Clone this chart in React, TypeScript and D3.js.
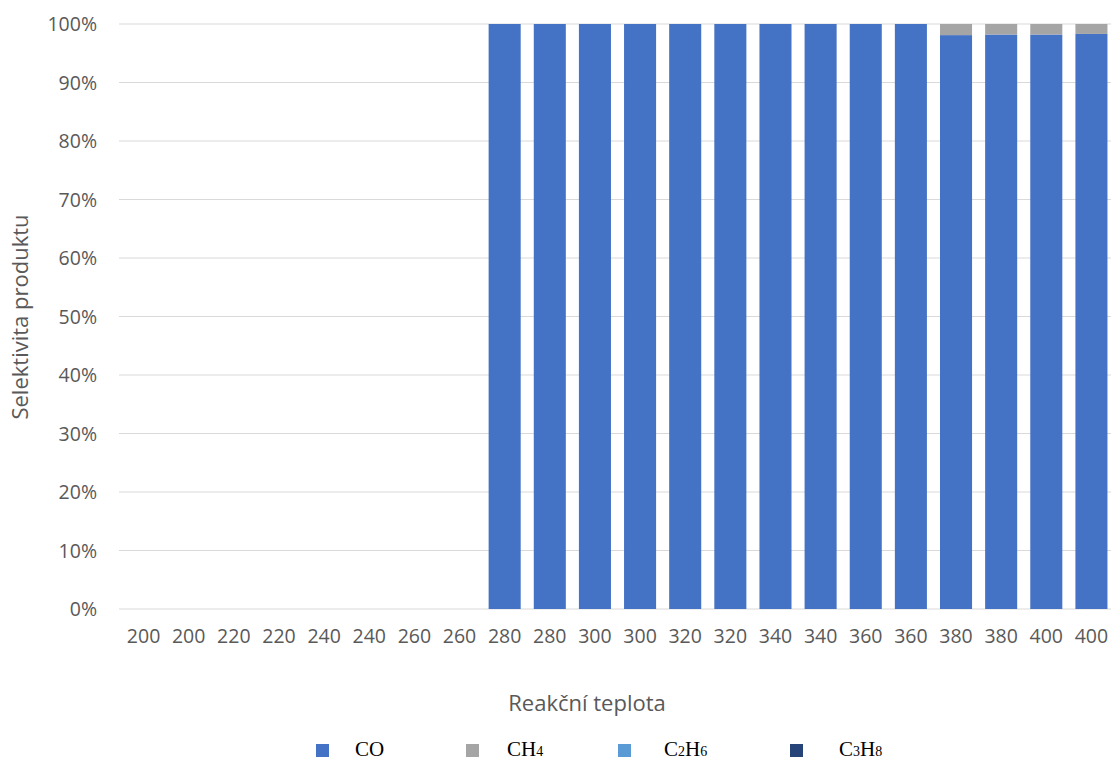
import React from "react";
import * as d3 from "d3";

const categories = ["200","200","220","220","240","240","260","260","280","280","300","300","320","320","340","340","360","360","380","380","400","400"];
const coValues = [0,0,0,0,0,0,0,0,100,100,100,100,100,100,100,100,100,100,98.1,98.2,98.2,98.3];
const ch4Values = [0,0,0,0,0,0,0,0,0,0,0,0,0,0,0,0,0,0,1.9,1.8,1.8,1.7];
const c2h6Values = [0,0,0,0,0,0,0,0,0,0,0,0,0,0,0,0,0,0,0,0,0,0];
const c3h8Values = [0,0,0,0,0,0,0,0,0,0,0,0,0,0,0,0,0,0,0,0,0,0];
const yTicks = [0,10,20,30,40,50,60,70,80,90,100];

const seriesNames = ["CO", "CH4", "C2H6", "C3H8"];
const seriesColors = ["#4472C4", "#A5A5A5", "#5B9BD5", "#264478"];
const seriesValues = [coValues, ch4Values, c2h6Values, c3h8Values];

export default function App() {
  const W = 1111, H = 761;
  const left = 121, right = 1114, top = 24, bottom = 609;
  const x = d3.scaleBand<number>().domain(d3.range(categories.length)).range([left, right]).paddingInner(0.29).paddingOuter(0.145);
  const y = d3.scaleLinear().domain([0, 100]).range([bottom, top]);

  const table = categories.map((c, i) => {
    const o: any = { i };
    seriesNames.forEach((s, k) => (o[s] = seriesValues[k][i]));
    return o;
  });
  const stacked = d3.stack().keys(seriesNames)(table);

  const legendItems = [
    { sq: 322, tx: 355, label: ["CO"] },
    { sq: 472, tx: 507, label: ["CH", "4"] },
    { sq: 624, tx: 664, label: ["C", "2", "H", "6"] },
    { sq: 796, tx: 839, label: ["C", "3", "H", "8"] },
  ];

  const sansFont = "'Open Sans', 'Liberation Sans', sans-serif";
  return (
    <svg width={W} height={H} style={{ position: "absolute", left: 0, top: 0, background: "#fff" }}>
      {yTicks.map((t) => (
        <g key={t}>
          <line x1={119} x2={1111} y1={y(t)} y2={y(t)} stroke="#D9D9D9" strokeWidth={1} />
          <text x={97} y={y(t)} dy="0.36em" textAnchor="end" fontFamily={sansFont} fontSize={19.5} fill="#595959">{t}%</text>
        </g>
      ))}
      {stacked.map((layer, k) => (
        <g key={layer.key} fill={seriesColors[k]}>
          {layer.map((d, i) =>
            d[1] - d[0] > 0 ? (
              <rect key={i} x={x(i)} width={x.bandwidth()} y={y(d[1])} height={y(d[0]) - y(d[1])} />
            ) : null
          )}
        </g>
      ))}
      {categories.map((c, i) => (
        <text key={i} x={(x(i) as number) + x.bandwidth() / 2} y={643} textAnchor="middle" fontFamily={sansFont} fontSize={19.5} fill="#595959">{c}</text>
      ))}
      <text x={587} y={711} textAnchor="middle" fontFamily={sansFont} fontSize={22} fill="#595959">Reakční teplota</text>
      <text transform={`translate(28, ${(207 + 427) / 2}) rotate(-90)`} textAnchor="middle" fontFamily={sansFont} fontSize={22} fill="#595959">Selektivita produktu</text>
      {legendItems.map((it, k) => (
        <g key={k}>
          <rect x={it.sq - 6} y={744} width={13} height={13} fill={seriesColors[k]} />
          <text x={it.tx} y={756} fontFamily="'Liberation Serif', 'Times New Roman', serif" fontSize={21} fill="#000">
            {it.label.map((p, j) =>
              /\d/.test(p) ? (
                <tspan key={j} fontSize={14}>{p}</tspan>
              ) : (
                <tspan key={j}>{p}</tspan>
              )
            )}
          </text>
        </g>
      ))}
    </svg>
  );
}
